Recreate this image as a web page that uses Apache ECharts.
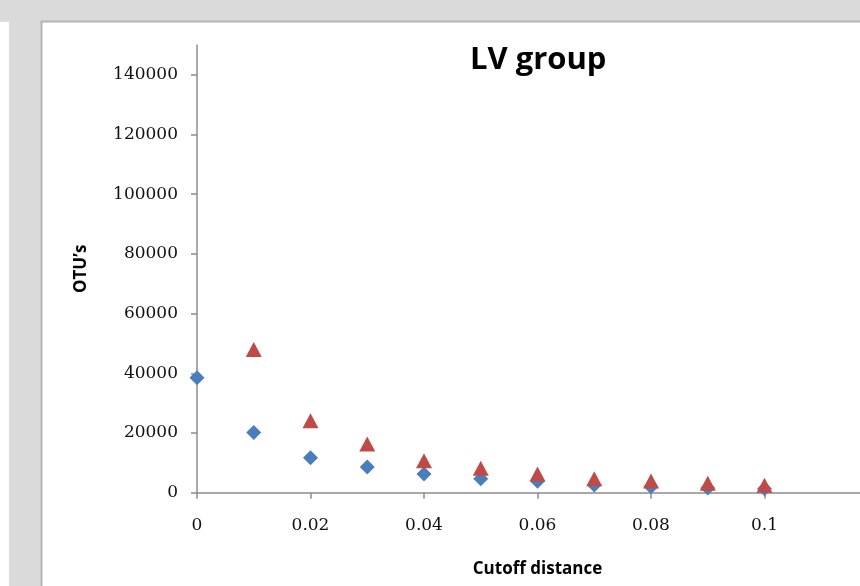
<!DOCTYPE html>
<html>
<head>
<meta charset="utf-8">
<title>LV group</title>
<script src="https://cdn.jsdelivr.net/npm/echarts@6/dist/echarts.min.js"></script>
<style>
  html, body { margin: 0; padding: 0; background: #dadada; }
  #chart { width: 860px; height: 586px; }
</style>
</head>
<body>
<div id="chart"></div>
<script>
// cutoff distances (x)
const cutoffs = [0, 0.01, 0.02, 0.03, 0.04, 0.05, 0.06, 0.07, 0.08, 0.09, 0.1]
// blue diamonds
const blueOtus = [38500, 20200, 11700, 8600, 6300, 4700, 3800, 2600, 2000, 1600, 1300]
// red triangles (none at 0)
const redCutoffs = [0.01, 0.02, 0.03, 0.04, 0.05, 0.06, 0.07, 0.08, 0.09, 0.1]
const redOtus = [48000, 24100, 16300, 10700, 8200, 6300, 4700, 3900, 3200, 2500]
// tick labels
const yTicks = [0, 20000, 40000, 60000, 80000, 100000, 120000, 140000]
const xTicks = [0, 0.02, 0.04, 0.06, 0.08, 0.1, 0.12]

const axisColor = '#8c8c8c'
const labelFont = {
  fontFamily: 'DejaVu Serif',
  fontSize: 17,
  color: '#111'
}

const chart = echarts.init(document.getElementById('chart'), null, { renderer: 'canvas' })

chart.setOption({
  animation: false,
  backgroundColor: '#dadada',
  graphic: [
    // left panel strip
    { type: 'rect', shape: { x: 0, y: 22, width: 9, height: 600 }, style: { fill: '#ffffff' }, z: -10 },
    // chart area
    {
      type: 'rect',
      shape: { x: 41.5, y: 21.5, width: 830, height: 600 },
      style: { fill: '#ffffff', stroke: '#b4b4b4', lineWidth: 2 },
      z: -10
    }
  ],
  title: {
    text: 'LV group',
    left: 465,
    top: 40,
    textStyle: {
      fontFamily: 'Open Sans',
      fontWeight: 'bold',
      fontSize: 31,
      color: '#000'
    }
  },
  grid: {
    left: 197,
    top: 45,
    // right end (0.12) falls just outside the picture
    width: 681,
    height: 447.7,
    containLabel: false,
    outerBoundsMode: 'none'
  },
  xAxis: {
    type: 'value',
    min: 0,
    max: 0.12,
    interval: 0.02,
    name: 'Cutoff distance',
    nameLocation: 'middle',
    nameGap: 68,
    nameTextStyle: {
      fontFamily: 'Open Sans',
      fontWeight: 'bold',
      fontSize: 17,
      color: '#000'
    },
    splitLine: { show: false },
    axisLine: { lineStyle: { color: axisColor, width: 1.5 } },
    axisTick: { show: true, length: 6, customValues: xTicks, lineStyle: { color: axisColor, width: 1.5 } },
    axisLabel: Object.assign({
      margin: 24,
      customValues: xTicks,
      showMaxLabel: true,
      formatter: v => String(v)
    }, labelFont)
  },
  yAxis: {
    type: 'value',
    min: 0,
    max: 150000,
    interval: 20000,
    name: 'OTU\u2019s',
    nameLocation: 'middle',
    nameGap: 107,
    nameRotate: 90,
    nameTextStyle: {
      fontFamily: 'Open Sans',
      fontWeight: 'bold',
      fontSize: 17,
      color: '#000'
    },
    splitLine: { show: false },
    axisLine: { show: true, lineStyle: { color: axisColor, width: 1.5 } },
    axisTick: { show: true, length: 6, customValues: yTicks, lineStyle: { color: axisColor, width: 1.5 } },
    axisLabel: Object.assign({ margin: 19, customValues: yTicks, formatter: v => String(v) }, labelFont)
  },
  series: [
    {
      type: 'scatter',
      symbol: 'diamond',
      symbolSize: [15, 15],
      itemStyle: { color: '#4a7ebb', opacity: 1 },
      data: cutoffs.map((c, i) => [c, blueOtus[i]]),
      z: 2
    },
    {
      type: 'scatter',
      symbol: 'triangle',
      symbolSize: [16, 15],
      itemStyle: { color: '#be4b48', opacity: 1 },
      data: redCutoffs.map((c, i) => [c, redOtus[i]]),
      z: 3
    }
  ]
})
</script>
</body>
</html>
